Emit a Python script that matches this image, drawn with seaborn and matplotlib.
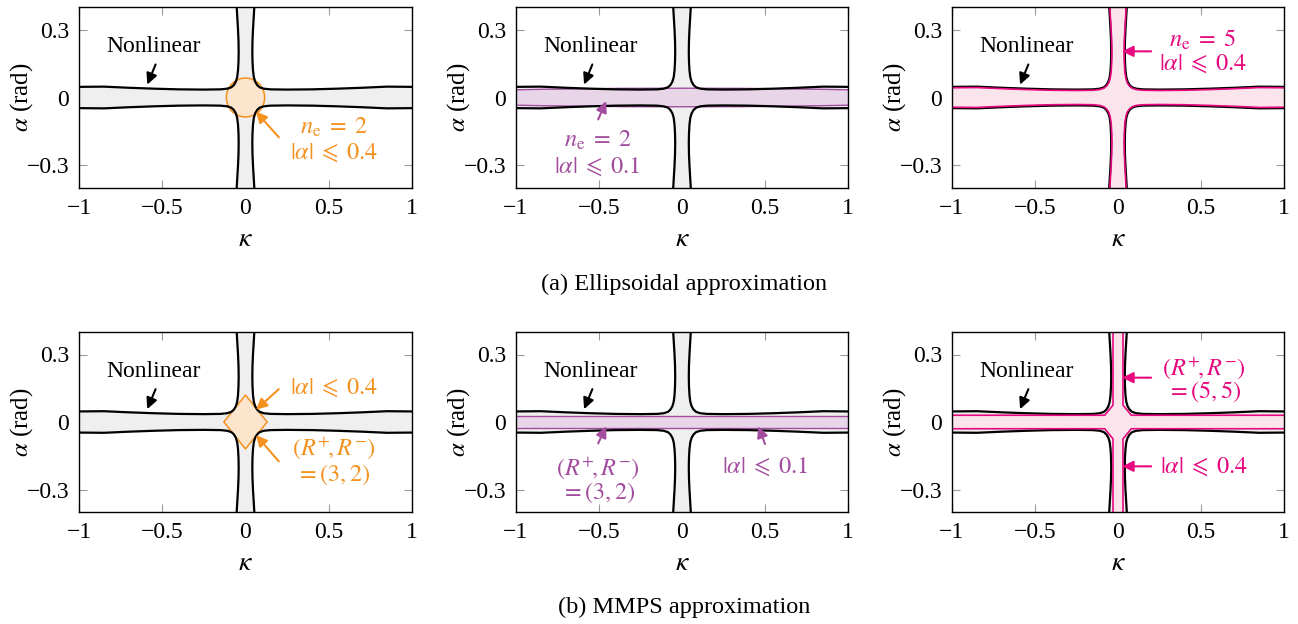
import numpy as np
import pandas as pd
import seaborn as sns
import matplotlib.pyplot as plt
from matplotlib.patches import Ellipse, Polygon

# Nonlinear stability boundary, upper-right quadrant (kappa, alpha); mirrored to the other quadrants
kappa_nl = [1.0, 0.85, 0.7, 0.55, 0.4, 0.25, 0.15, 0.11, 0.085, 0.07, 0.058, 0.05,
            0.045, 0.042, 0.041, 0.042, 0.045, 0.049, 0.053]
alpha_nl = [0.047, 0.048, 0.043, 0.039, 0.036, 0.035, 0.036, 0.039, 0.045, 0.055, 0.07, 0.09,
            0.12, 0.16, 0.2, 0.25, 0.3, 0.35, 0.4]

# Ellipsoidal, n_e = 5, |alpha| <= 0.4 (quadrant boundary)
kappa_e5 = [1.0, 0.85, 0.7, 0.55, 0.4, 0.25, 0.15, 0.11, 0.086, 0.068, 0.055, 0.047,
            0.041, 0.038, 0.037, 0.038, 0.041, 0.045, 0.049]
alpha_e5 = [0.043, 0.044, 0.039, 0.035, 0.032, 0.031, 0.032, 0.035, 0.041, 0.051, 0.066, 0.086,
            0.116, 0.156, 0.196, 0.246, 0.296, 0.346, 0.4]

# Ellipsoidal n_e = 2 semi-axes (kappa, alpha)
ell_04 = (0.115, 0.086)
ell_01 = (1.8, 0.041)

# MMPS (3,2), |alpha| <= 0.4 : diamond
diamond_kappa = [0.13, 0.0, -0.13, 0.0]
diamond_alpha = [0.0, 0.12, 0.0, -0.12]

# MMPS (3,2), |alpha| <= 0.1 : band
band_kappa = [-1.0, 1.0]
band_alpha = 0.026

# MMPS (5,5), |alpha| <= 0.4 : chamfered cross, upper-right quadrant
kappa_m55 = [1.0, 0.08, 0.03, 0.03]
alpha_m55 = [0.03, 0.03, 0.075, 0.4]

x_ticks = [-1, -0.5, 0, 0.5, 1]
x_labels = ["\u22121", "\u22120.5", "0", "0.5", "1"]
y_ticks = [-0.3, 0, 0.3]
y_labels = ["\u22120.3", "0", "0.3"]

ORANGE, ORANGE_F = "#F39220", "#FDE4CC"
PURPLE, PURPLE_F = "#A24D9E", "#E8D5E7"
PINK, PINK_F = "#E6097F", "#FBE4EC"
GRAY_F = "#EFEFEF"

sns.set_theme(style="ticks")
plt.rcParams["font.family"] = ["Liberation Serif", "DejaVu Serif"]
plt.rcParams["mathtext.fontset"] = "stix"
plt.rcParams["text.color"] = "black"
plt.rcParams["axes.labelcolor"] = "black"
plt.rcParams["xtick.labelcolor"] = "black"
plt.rcParams["ytick.labelcolor"] = "black"
FS = 17      # ticks, captions, "Nonlinear"
FS_M = 17.5  # coloured math labels
LEQ = r"\;\leqslant\;"
EQ = r"\;=\;"


def cross_polygon(k, a):
    k, a = np.asarray(k), np.asarray(a)
    x = np.concatenate([k[::-1], k, -k[::-1], -k])
    y = np.concatenate([a[::-1], -a, -a[::-1], a])
    return np.column_stack([x, y])


def quadrant_df(k, a):
    k, a = np.asarray(k), np.asarray(a)
    parts = []
    for i, (sx, sy) in enumerate([(1, 1), (1, -1), (-1, -1), (-1, 1)]):
        parts.append(pd.DataFrame({"kappa": sx * k, "alpha": sy * a, "piece": i}))
    return pd.concat(parts, ignore_index=True)


def arrow(ax, tip, tail, color):
    ax.annotate("", xy=tip, xytext=tail,
                arrowprops=dict(arrowstyle="-|>,head_length=0.55,head_width=0.27",
                                color=color, lw=1.5, shrinkA=0, shrinkB=0),
                zorder=8)


def label(ax, text, xy, color, fs=FS_M):
    ax.text(xy[0], xy[1], text, ha="center", va="center", fontsize=fs, color=color,
            zorder=8)


def axis_labels(ax):
    ax.set_xlabel(r"$\kappa$", fontsize=FS + 3, labelpad=6)
    ax.set_ylabel(r"$\alpha$ (rad)", fontsize=FS + 1, va="center")
    ax.yaxis.set_label_coords(-0.172, 0.5)


def base_axes(ax):
    ax.set_xlim(-1, 1)
    ax.set_ylim(-0.4, 0.4)
    ax.add_patch(Polygon(cross_polygon(kappa_nl, alpha_nl), closed=True,
                         facecolor=GRAY_F, edgecolor="none", zorder=1))
    ax.set_xticks(x_ticks, x_labels)
    ax.set_yticks(y_ticks, y_labels)
    ax.tick_params(direction="in", length=6, width=0.8, color="#9a9a9a",
                   top=True, right=True, labelsize=FS, pad=7)
    for s in ax.spines.values():
        s.set_color("black")
        s.set_linewidth(1.0)
        s.set_zorder(10)
    label(ax, "Nonlinear", (-0.55, 0.226), "black", fs=FS)
    arrow(ax, (-0.59, 0.057), (-0.54, 0.146), "black")


def nonlinear_lines(ax):
    sns.lineplot(data=quadrant_df(kappa_nl, alpha_nl), x="kappa", y="alpha",
                 units="piece", estimator=None, sort=False, color="black",
                 lw=1.6, ax=ax, zorder=4)
    axis_labels(ax)


fig = plt.figure(figsize=(12.98, 6.24), dpi=100)
W, H = 1298, 624
cols_px = [(79, 412), (516, 848), (952, 1284)]
rows_px = [(7, 188), (332, 512)]
axes = [[fig.add_axes([l / W, 1 - b / H, (r - l) / W, (b - t) / H]) for (l, r) in cols_px]
        for (t, b) in rows_px]

for row in axes:
    for ax in row:
        base_axes(ax)

# (a) Ellipsoidal approximation
ax = axes[0][0]
ax.add_patch(Ellipse((0, 0), 2 * ell_04[0], 2 * ell_04[1], facecolor=ORANGE_F,
                     edgecolor=ORANGE, lw=1.1, zorder=3))
nonlinear_lines(ax)
arrow(ax, (0.063, -0.062), (0.2, -0.176), ORANGE)
label(ax, r"$n_\mathrm{e}" + EQ + r"2$", (0.53, -0.13), ORANGE)
label(ax, r"$|\alpha|" + LEQ + r"0.4$", (0.53, -0.245), ORANGE)

ax = axes[0][1]
ax.add_patch(Ellipse((0, 0), 2 * ell_01[0], 2 * ell_01[1], facecolor=PURPLE_F,
                     edgecolor=PURPLE, lw=1.0, zorder=3))
nonlinear_lines(ax)
arrow(ax, (-0.457, -0.016), (-0.505, -0.097), PURPLE)
label(ax, r"$n_\mathrm{e}" + EQ + r"2$", (-0.51, -0.19), PURPLE)
label(ax, r"$|\alpha|" + LEQ + r"0.1$", (-0.51, -0.305), PURPLE)

ax = axes[0][2]
ax.add_patch(Polygon(cross_polygon(kappa_e5, alpha_e5), closed=True,
                     facecolor=PINK_F, edgecolor="none", zorder=2))
nonlinear_lines(ax)
sns.lineplot(data=quadrant_df(kappa_e5, alpha_e5), x="kappa", y="alpha",
             units="piece", estimator=None, sort=False, color=PINK, lw=1.2,
             ax=ax, zorder=5)
axis_labels(ax)
arrow(ax, (0.025, 0.204), (0.2, 0.204), PINK)
label(ax, r"$n_\mathrm{e}" + EQ + r"5$", (0.51, 0.256), PINK)
label(ax, r"$|\alpha|" + LEQ + r"0.4$", (0.51, 0.15), PINK)

# (b) MMPS approximation
ax = axes[1][0]
ax.add_patch(Polygon(np.column_stack([diamond_kappa, diamond_alpha]), closed=True,
                     facecolor=ORANGE_F, edgecolor=ORANGE, lw=1.1, zorder=3))
nonlinear_lines(ax)
arrow(ax, (0.063, 0.054), (0.2, 0.146), ORANGE)
label(ax, r"$|\alpha|" + LEQ + r"0.4$", (0.53, 0.154), ORANGE)
arrow(ax, (0.063, -0.058), (0.2, -0.175), ORANGE)
label(ax, r"$(R^{+}\!,R^{-})$", (0.53, -0.117), ORANGE)
label(ax, r"$=(3,2)$", (0.53, -0.234), ORANGE)

ax = axes[1][1]
ax.fill_between(band_kappa, -band_alpha, band_alpha, facecolor=PURPLE_F,
                edgecolor="none", zorder=3)
for s in (-1, 1):
    ax.plot(band_kappa, [s * band_alpha] * 2, color=PURPLE, lw=1.0, zorder=3)
nonlinear_lines(ax)
arrow(ax, (-0.457, -0.019), (-0.505, -0.095), PURPLE)
label(ax, r"$(R^{+}\!,R^{-})$", (-0.505, -0.205), PURPLE)
label(ax, r"$=(3,2)$", (-0.505, -0.314), PURPLE)
arrow(ax, (0.46, -0.019), (0.5, -0.098), PURPLE)
label(ax, r"$|\alpha|" + LEQ + r"0.1$", (0.5, -0.197), PURPLE)

ax = axes[1][2]
ax.add_patch(Polygon(cross_polygon(kappa_m55, alpha_m55), closed=True,
                     facecolor=PINK_F, edgecolor="none", zorder=2))
nonlinear_lines(ax)
sns.lineplot(data=quadrant_df(kappa_m55, alpha_m55), x="kappa", y="alpha",
             units="piece", estimator=None, sort=False, color=PINK, lw=1.2,
             ax=ax, zorder=5)
axis_labels(ax)
arrow(ax, (0.025, 0.197), (0.2, 0.197), PINK)
label(ax, r"$(R^{+}\!,R^{-})$", (0.52, 0.241), PINK)
label(ax, r"$=(5,5)$", (0.52, 0.135), PINK)
arrow(ax, (0.025, -0.197), (0.2, -0.197), PINK)
label(ax, r"$|\alpha|" + LEQ + r"0.4$", (0.52, -0.197), PINK)

fig.text(684 / W, 1 - 284 / H, "(a) Ellipsoidal approximation", ha="center",
         va="center", fontsize=FS + 0.5)
fig.text(684 / W, 1 - 607 / H, "(b) MMPS approximation", ha="center",
         va="center", fontsize=FS + 0.5)

fig.savefig("out.png", dpi=100)
